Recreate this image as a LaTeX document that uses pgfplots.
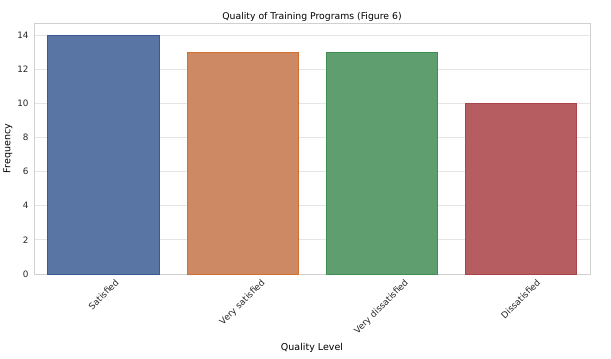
\documentclass[border=0pt]{standalone}
\usepackage{pgfplots}
\pgfplotsset{compat=1.18}
\usepackage{fontspec}
\setmainfont{DejaVu Sans}
\usepackage{graphicx}
\definecolor{cb}{HTML}{5975A4}
\definecolor{co}{HTML}{CC8963}
\definecolor{cg}{HTML}{5F9E6E}
\definecolor{cr}{HTML}{B55D60}
\definecolor{eb}{HTML}{3A5A93}
\definecolor{eo}{HTML}{D2712F}
\definecolor{eg}{HTML}{3F8F50}
\definecolor{er}{HTML}{A8454A}
\definecolor{gridc}{HTML}{E5E5E5}
\definecolor{framec}{HTML}{D0D0D0}
\begin{document}
\begin{tikzpicture}[x=1pt,y=1pt]
\useasboundingbox (0,0) rectangle (611,359);
\begin{axis}[
  at={(34pt,85pt)}, anchor=south west,
  scale only axis, width=556pt, height=251pt,
  xmin=-0.5, xmax=3.5, ymin=0, ymax=14.7,
  xtick={0,1,2,3},
  xticklabels={\rotatebox{45}{Satisfied},\rotatebox{45}{Very satisfied},\rotatebox{45}{Very dissatisfied},\rotatebox{45}{Dissatisfied}},
  xticklabel style={anchor=north, font=\fontsize{8.8}{10}\selectfont, text=black!85, yshift=-1pt},
  ytick={0,2,4,6,8,10,12,14},
  yticklabel style={font=\fontsize{8.8}{10}\selectfont, text=black!85, xshift=-2pt},
  /pgf/number format/assume math mode=true,
  major tick length=0pt,
  ymajorgrids, grid style={gridc, line width=0.8pt},
  axis line style={framec, line width=0.8pt},
  title={Quality of Training Programs (Figure 6)},
  title style={font=\fontsize{9.3}{11}\selectfont, yshift=-8pt},
  xlabel={Quality Level}, ylabel={Frequency},
  xlabel style={font=\fontsize{9.5}{11}\selectfont, yshift=-1pt},
  ylabel style={font=\fontsize{9.5}{11}\selectfont, yshift=-2pt},
]
\addplot[ybar, bar width=0.8, fill=cb, draw=eb, line width=0.8pt, bar shift=0pt] coordinates {(0,14)};
\addplot[ybar, bar width=0.8, fill=co, draw=eo, line width=0.8pt, bar shift=0pt] coordinates {(1,13)};
\addplot[ybar, bar width=0.8, fill=cg, draw=eg, line width=0.8pt, bar shift=0pt] coordinates {(2,13)};
\addplot[ybar, bar width=0.8, fill=cr, draw=er, line width=0.8pt, bar shift=0pt] coordinates {(3,10)};
\end{axis}
\end{tikzpicture}
\end{document}
